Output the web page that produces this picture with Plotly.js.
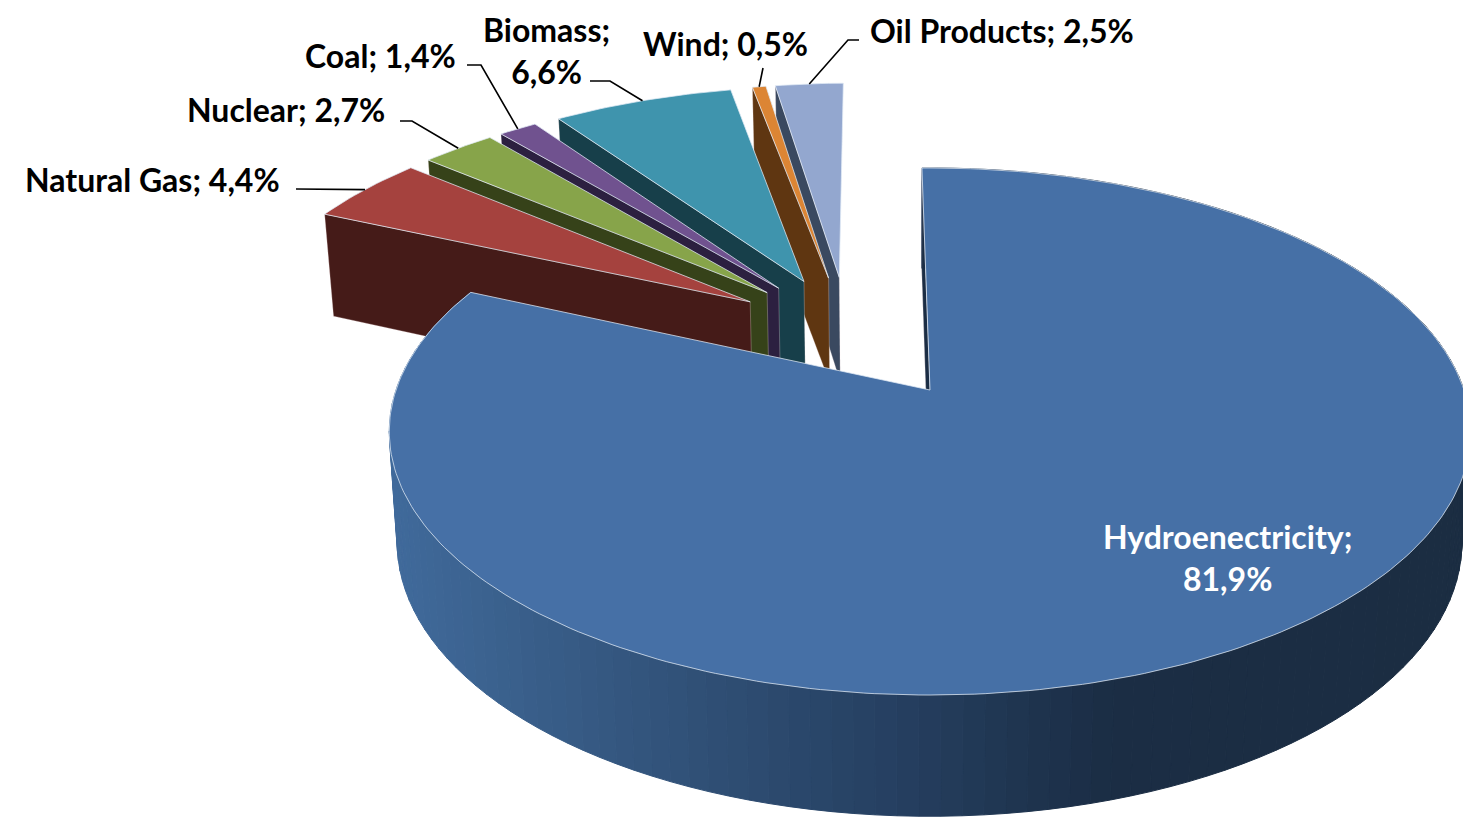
<!DOCTYPE html>
<html><head><meta charset="utf-8">
<script src="https://cdn.plot.ly/plotly-3.0.1.min.js"></script>
<style>html,body{margin:0;padding:0;background:#fff}#c{width:1463px;height:817px}</style>
</head><body><div id="c"></div>
<script>
// ---- data (clockwise from 12 o'clock)
const categories = ["Hydroenectricity","Natural Gas","Nuclear","Coal","Biomass","Wind","Oil Products"];
const shares     = [81.9,4.4,2.7,1.4,6.6,0.5,2.5];
// ---- styles
const topColors  = ["#4670A6","#A5423E","#87A44A","#70528F","#3F94AD","#DC8534","#93A7CF"];
const sideColors = ["#1B2D44","#451B18","#364219","#2C2040","#173F4A","#5F3611","#3A4960"];
const pulls      = [0.29,0.23,0.23,0.23,0.23,0.23,0.23];
const rimStopsX  = [389,600,900,1110,1463];
const rimStopsC  = [[64,106,155],[53,88,129],[37,63,96],[27,45,68],[27,45,66]];
// ---- label placement (centre x, centre y of text block), and leader elbow points
const labelPos   = [[1227,557],[152,179],[286,109],[380,55],[546,50],[725,43],[1002,30]];
const leaderFrom = [null,[[296,189],[362,189]],[[400,121],[412,121]],[[467,65],[481,65]],[[590,81],[610,81]],[[763,68]],[[859,40],[848,40]]];
const labelBreak = [true,false,false,false,true,false,false];
const labelSize  = 32;
const labelFont  = "Lato, 'Open Sans', sans-serif";

// ---- projection: the pie plane seen in perspective
const cx=930, cy=390, A=534, B=257, K=0.1575, startDeg=-1;
const rad=d=>d*Math.PI/180;
function proj(u,v){const w=1+K*v;return [cx+A*u/w, cy-B*v/w];}
function drop(p){return [p[0]+(900-p[0])*0.0155, p[1]+102+0.04*(p[1]-214)];}

const total=shares.reduce((a,b)=>a+b,0);
let acc=startDeg;
const slices=shares.map((s,i)=>{const a0=acc,a1=acc+s/total*360;acc=a1;return {i,a0,a1,m:(a0+a1)/2};});
const hm=rad(slices[0].m);
const Cu=-pulls[0]*Math.sin(hm), Cv=-pulls[0]*Math.cos(hm);
slices.forEach(sl=>{const m=rad(sl.m);sl.ou=Cu+pulls[sl.i]*Math.sin(m);sl.ov=Cv+pulls[sl.i]*Math.cos(m);});
const pt=(sl,deg,r=1)=>proj(sl.ou+r*Math.sin(rad(deg)),sl.ov+r*Math.cos(rad(deg)));

function poly(pts,fill,line,lw){
  const xs=pts.map(p=>p[0]),ys=pts.map(p=>p[1]);
  xs.push(xs[0]);ys.push(ys[0]);
  return {type:"scatter",mode:"lines",x:xs,y:ys,fill:"toself",fillcolor:fill,
    line:{color:line||fill,width:lw===undefined?1:lw},hoverinfo:"skip",showlegend:false};
}
function rimColor(x){
  for(let j=0;j<rimStopsX.length-1;j++){
    if(x<=rimStopsX[j+1]){
      const t=Math.max(0,(x-rimStopsX[j])/(rimStopsX[j+1]-rimStopsX[j]));
      const c=rimStopsC[j].map((v,q)=>Math.round(v+(rimStopsC[j+1][q]-v)*t));
      return `rgb(${c[0]},${c[1]},${c[2]})`;
    }
  }
  const c=rimStopsC[rimStopsC.length-1];return `rgb(${c[0]},${c[1]},${c[2]})`;
}
const traces=[];
// painter's order: from the back (last slice) to the front (gas), hydro last
[6,5,4,3,2,1,0].forEach(i=>{
  const sl=slices[i];
  const apex=proj(sl.ou,sl.ov), st=pt(sl,sl.a0);
  if(i===0){
    // rim, shaded along x
    const step=2;
    for(let d=sl.a0;d<sl.a1;d+=step){
      const p=pt(sl,d),q=pt(sl,Math.min(d+step,sl.a1));
      const c=rimColor((p[0]+q[0])/2);
      traces.push(poly([p,q,drop(q),drop(p)],c));
    }
  }
  // radial face of the slice's leading edge
  traces.push(poly([st,apex,drop(apex),drop(st)],sideColors[i],"rgba(255,235,235,0.35)",0.8));
  // top surface
  const top=[apex];
  for(let d=sl.a0;d<=sl.a1;d+=1)top.push(pt(sl,d));
  top.push(pt(sl,sl.a1));
  traces.push(poly(top,topColors[i],"rgba(225,235,245,0.75)",1));
});
// leader lines end on the middle of the slice's arc
slices.forEach(sl=>{
  const from=leaderFrom[sl.i]; if(!from)return;
  const pts=from.concat([pt(sl,sl.m)]);
  traces.push({type:"scatter",mode:"lines",x:pts.map(p=>p[0]),y:pts.map(p=>p[1]),
    line:{color:"#000",width:1.6},hoverinfo:"skip",showlegend:false});
});
const annotations=slices.map(sl=>{
  const i=sl.i, val=shares[i].toFixed(1).replace(".",",")+"%";
  const txt=`<b>${categories[i]};${labelBreak[i]?"<br>":" "}${val}</b>`;
  return {x:labelPos[i][0],y:labelPos[i][1],xref:"x",yref:"y",text:txt,showarrow:false,
    xanchor:"center",yanchor:"middle",align:"center",
    font:{family:labelFont,size:labelSize,color:i===0?"#fff":"#000"}};
});
const layout={width:1463,height:817,margin:{l:0,r:0,t:0,b:0},paper_bgcolor:"#fff",plot_bgcolor:"#fff",
  xaxis:{range:[0,1463],visible:false,fixedrange:true},
  yaxis:{range:[817,0],visible:false,fixedrange:true},
  showlegend:false,annotations};
Plotly.newPlot("c",traces,layout,{displayModeBar:false,staticPlot:true});
</script></body></html>
